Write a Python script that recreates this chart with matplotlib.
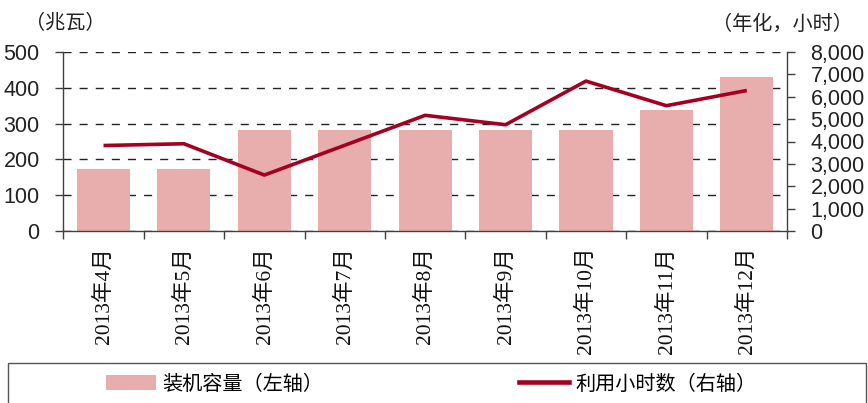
import matplotlib
matplotlib.use("Agg")
import matplotlib.pyplot as plt
from matplotlib import font_manager
import matplotlib.transforms as mtrans
from matplotlib.patches import Rectangle
from matplotlib.lines import Line2D
from matplotlib.patches import Patch
import matplotlib.ticker as mticker

categories = ["2013年4月", "2013年5月", "2013年6月", "2013年7月", "2013年8月",
              "2013年9月", "2013年10月", "2013年11月", "2013年12月"]
capacity_mw = [173, 173, 281, 281, 281, 281, 281, 338, 430]
util_hours = [3820, 3900, 2500, 3830, 5170, 4750, 6700, 5600, 6280]
left_ticks = [0, 100, 200, 300, 400, 500]
right_ticks = [0, 1000, 2000, 3000, 4000, 5000, 6000, 7000, 8000]

names = {f.name for f in font_manager.fontManager.ttflist}
narrow_ok = "Liberation Sans Narrow" in names
num_font = "Liberation Sans Narrow" if narrow_ok else "Liberation Sans"
cjk = "Noto Sans CJK SC"

plt.rcParams['font.family'] = [cjk, 'DejaVu Sans']

W, H = 868, 403
fig = plt.figure(figsize=(W / 100, H / 100), dpi=100)
x0, x1, ytop, ybot = 63.3, 787.0, 52.0, 231.0
ax = fig.add_axes([x0 / W, 1 - ybot / H, (x1 - x0) / W, (ybot - ytop) / H])
ax2 = ax.twinx()

bar_color = "#E8ADAD"
line_color = "#A50021"
axis_color = "#404040"

xs = list(range(len(categories)))
ax.bar(xs, capacity_mw, width=0.66, color=bar_color, zorder=2)
ax2.plot(xs, util_hours, color=line_color, lw=2.6, solid_capstyle='butt', zorder=3)

ax.set_xlim(-0.5, len(categories) - 0.5)
ax.set_ylim(0, 500)
ax2.set_ylim(0, 8000)
ax.set_yticks(left_ticks)
ax2.set_yticks(right_ticks)
ax2.yaxis.set_major_formatter(mticker.FuncFormatter(lambda v, p: f"{int(v):,}"))

ax.set_xticks([i - 0.5 for i in range(len(categories) + 1)])
ax.set_xticklabels([])
ax.tick_params(axis='x', which='major', length=6, width=1.0, color=axis_color, direction='out')

# category labels below the axis (rotated), serif digits + CJK fallback
trans = mtrans.blended_transform_factory(ax.transData, ax.transAxes)
off = mtrans.ScaledTranslation(0, -16 / 100, fig.dpi_scale_trans)
for xi, lab in zip(xs, categories):
    ax.text(xi, 0, lab, transform=trans + off, rotation=90, ha='center', va='top',
            fontsize=15.5, color="#111111", family=['Liberation Serif', cjk], clip_on=False)

ax.set_axisbelow(True)
ax.yaxis.grid(True, color="#222222", lw=1.0, linestyle=(0, (5.8, 5.8)))
ax.xaxis.grid(False)

for a in (ax, ax2):
    a.spines['top'].set_visible(False)
    for s in ('left', 'right', 'bottom'):
        a.spines[s].set_color(axis_color)
        a.spines[s].set_linewidth(1.0)
ax.spines['right'].set_visible(False)
ax2.spines['left'].set_visible(False)
ax2.spines['bottom'].set_visible(False)

for a in (ax, ax2):
    a.tick_params(axis='y', length=6, width=1.0, color=axis_color, pad=11,
                  labelsize=17 if narrow_ok else 15.5, labelcolor="#222222")
    for lab in a.get_yticklabels():
        lab.set_fontfamily(num_font)

fig.text(65 / W, 1 - 24 / H, "（兆瓦）", fontsize=14.5, ha='center', va='center', color="#222222")
fig.text(853 / W, 1 - 24 / H, "（年化，小时）", fontsize=14.5, ha='right', va='center', color="#222222")

# legend frame
fig.patches.append(Rectangle((8 / W, -0.2), (866 - 8) / W, 0.2 + (1 - 363 / H),
                             transform=fig.transFigure, fill=False, edgecolor="#555555",
                             lw=1.0, clip_on=False))
handles = [Patch(facecolor=bar_color, edgecolor='none'),
           Line2D([0], [0], color=line_color, lw=3.3)]
fig.legend(handles, ["装机容量（左轴）", "利用小时数（右轴）"], ncol=2, frameon=False,
           loc='center left', bbox_to_anchor=(106 / W, 1 - 384 / H),
           fontsize=14.5, handlelength=2.5, handleheight=0.72, handletextpad=0.3,
           columnspacing=9.7, borderpad=0, borderaxespad=0)

fig.savefig("out.png", dpi=100)
